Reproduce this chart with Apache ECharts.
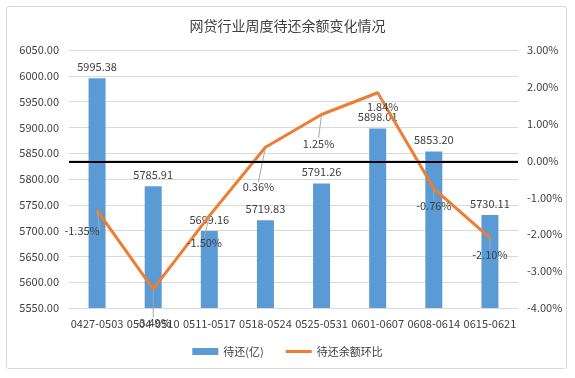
<!DOCTYPE html>
<html>
<head>
<meta charset="utf-8">
<script src="https://cdn.jsdelivr.net/npm/echarts@6/dist/echarts.min.js"></script>
<style>
html,body{margin:0;padding:0;background:#fff;}
#frame{position:absolute;left:6px;top:6px;width:561px;height:363px;border:1px solid #d9d9d9;border-radius:3px;box-sizing:border-box;}
#chart{position:absolute;left:0;top:0;width:575px;height:378px;}
</style>
</head>
<body>
<div id="frame"></div>
<div id="chart"></div>
<script>
const titleText = '网贷行业周度待还余额变化情况';
const categories = ['0427-0503','0504-0510','0511-0517','0518-0524','0525-0531','0601-0607','0608-0614','0615-0621'];
const balance = [5995.38, 5785.91, 5699.16, 5719.83, 5791.26, 5898.01, 5853.20, 5730.11];
const changePct = [-1.35, -3.49, -1.50, 0.36, 1.25, 1.84, -0.76, -2.10];
const seriesNames = ['待还(亿)', '待还余额环比'];
const referenceLevel = 5834; // black horizontal line, left-axis units
// label offsets for line labels (dx, dy) in px
const pctLabelOffsets = [[-15,20],[0,34],[-5,27],[-7,40],[-3,29],[5,14],[0,17],[0,17]];

const font = '"Noto Sans CJK SC", "Noto Sans", sans-serif';
const chart = echarts.init(document.getElementById('chart'));
chart.setOption({
  animation: false,
  title: {
    text: titleText, left: 'center', top: 14,
    textStyle: {fontFamily: font, fontSize: 14, fontWeight: 'normal', color: '#404040'}
  },
  legend: {
    bottom: 16, left: 'center', itemGap: 22, itemWidth: 26, itemHeight: 7,
    textStyle: {fontFamily: font, fontSize: 11, color: '#404040'},
    data: [
      {name: seriesNames[0], icon: 'rect'},
      {name: seriesNames[1], icon: 'path://M0,0 L26,0 L26,3 L0,3 Z'}
    ]
  },
  grid: {left: 69, right: 57, top: 50, bottom: 70},
  xAxis: {
    type: 'category', data: categories,
    axisTick: {show: false},
    axisLine: {lineStyle: {color: '#d9d9d9'}},
    axisLabel: {fontFamily: font, fontSize: 11, color: '#404040', interval: 0, margin: 10}
  },
  yAxis: [
    {
      type: 'value', min: 5550, max: 6050, interval: 50,
      axisLabel: {fontFamily: font, fontSize: 11, color: '#404040', formatter: v => v.toFixed(2), margin: 10},
      splitLine: {lineStyle: {color: '#d9d9d9'}},
      axisLine: {show: false}, axisTick: {show: false}
    },
    {
      type: 'value', min: -4, max: 3, interval: 1,
      axisLabel: {fontFamily: font, fontSize: 11, color: '#404040', formatter: v => v.toFixed(2) + '%', margin: 9},
      splitLine: {show: false},
      axisLine: {show: false}, axisTick: {show: false}
    }
  ],
  series: [
    {
      name: seriesNames[0], type: 'bar', data: balance, barWidth: 17,
      itemStyle: {color: '#5B9BD5'},
      label: {show: true, position: 'top', distance: 6, fontFamily: font, fontSize: 11, color: '#404040',
              formatter: p => p.value.toFixed(2)},
      markLine: {
        silent: true, symbol: 'none', label: {show: false},
        lineStyle: {color: '#000', width: 2, type: 'solid'},
        data: [{yAxis: referenceLevel}]
      },
      z: 2
    },
    {
      name: seriesNames[1], type: 'line', yAxisIndex: 1, data: changePct,
      symbol: 'circle', symbolSize: 2, showSymbol: true,
      lineStyle: {color: '#ED7D31', width: 3},
      itemStyle: {color: '#ED7D31'},
      label: {show: true, position: 'inside', fontFamily: font, fontSize: 11, color: '#404040',
              formatter: p => p.value.toFixed(2) + '%'},
      labelLine: {show: true, lineStyle: {color: '#a6a6a6', width: 1}},
      labelLayout: p => ({dx: pctLabelOffsets[p.dataIndex][0], dy: pctLabelOffsets[p.dataIndex][1]}),
      z: 3
    }
  ]
});
</script>
</body>
</html>
